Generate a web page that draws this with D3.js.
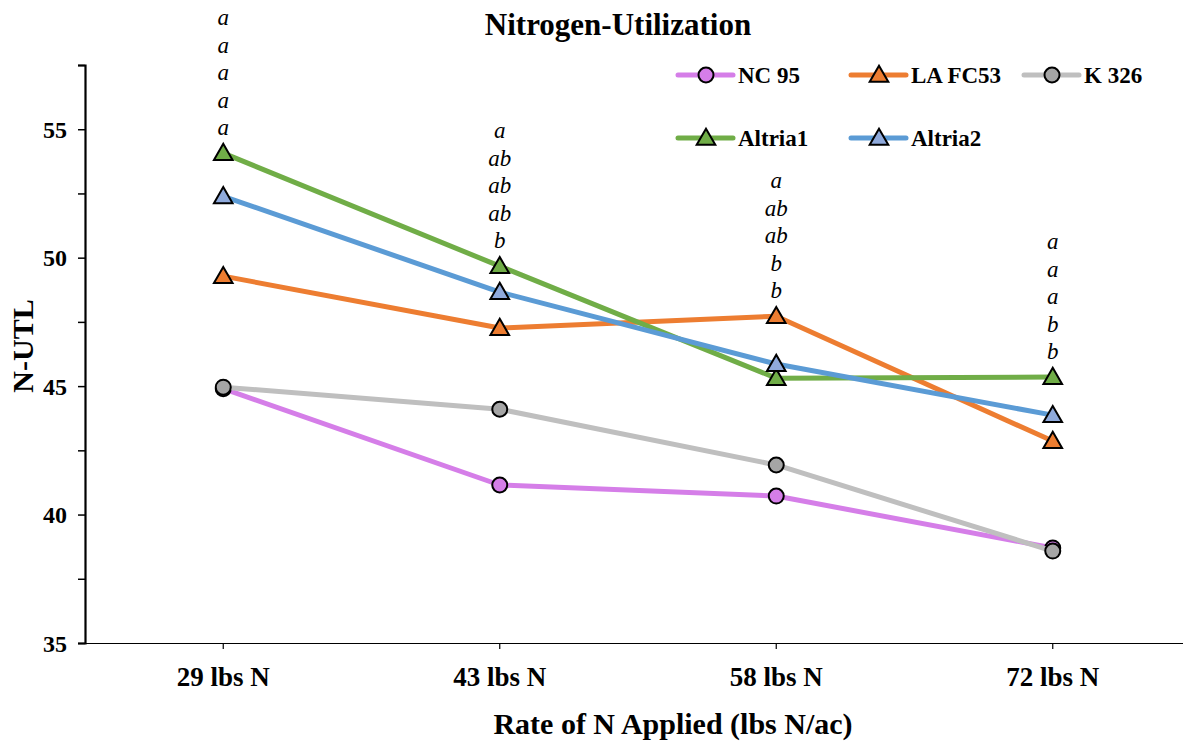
<!DOCTYPE html>
<html>
<head>
<meta charset="utf-8">
<script src="https://cdn.jsdelivr.net/npm/d3@7"></script>
<style>
  body { margin: 0; background: #fff; }
  svg text { font-family: "Liberation Serif", "Times New Roman", serif; }
</style>
</head>
<body>
<svg id="chart" width="1183" height="742"></svg>
<script>
// Nitrogen rates and N-utilization by variety
const rates = ["29 lbs N", "43 lbs N", "58 lbs N", "72 lbs N"];
const nc95    = [44.9, 41.15, 40.72, 38.70];
const laFC53  = [49.28, 47.26, 47.72, 42.86];
const k326    = [44.96, 44.10, 41.93, 38.58];
const altria1 = [54.07, 49.67, 45.31, 45.35];
const altria2 = [52.39, 48.66, 45.86, 43.87];
const yTicks  = [35, 40, 45, 50, 55];
// mean separation letters per rate, top to bottom
const letters = [
  ["a", "a", "a", "a", "a"],
  ["a", "ab", "ab", "ab", "b"],
  ["a", "ab", "ab", "b", "b"],
  ["a", "a", "a", "b", "b"]
];

const series = [
  { name: "NC 95",   values: nc95,    line: "#d57ee8", fill: "#d57ee8", shape: "circle" },
  { name: "LA FC53", values: laFC53,  line: "#ed7d31", fill: "#ed7d31", shape: "triangle" },
  { name: "K 326",   values: k326,    line: "#bfbfbf", fill: "#a5a5a5", shape: "circle" },
  { name: "Altria1", values: altria1, line: "#70ad47", fill: "#70ad47", shape: "triangle" },
  { name: "Altria2", values: altria2, line: "#5b9bd5", fill: "#8faadc", shape: "triangle" }
];

const svg = d3.select("#chart");
const plotLeft = 85, plotRight = 1191, plotTop = 65, plotBottom = 643;

const x = d3.scaleBand().domain(rates).range([plotLeft, plotRight]);
const y = d3.scaleLinear().domain([35, 57.5]).range([plotBottom, plotTop]);
const cx = d => x(d) + x.bandwidth() / 2;

// axes
const yAxis = svg.append("g").attr("transform", `translate(${plotLeft},0)`)
  .call(d3.axisLeft(y).tickValues(d3.range(35, 57.51, 2.5)).tickSize(7)
    .tickFormat(d => yTicks.includes(d) ? d : ""));
yAxis.select(".domain").attr("stroke", "#000").attr("stroke-width", 2.2);
yAxis.selectAll(".tick line").attr("stroke", "#000").attr("stroke-width", 1.5);
yAxis.selectAll(".tick text")
  .style("font-size", "24px").style("font-weight", "bold")
  .style("font-family", "'Liberation Serif', serif")
  .attr("fill", "#000").attr("x", -18).attr("dy", "0.34em");

const xAxis = svg.append("g").attr("transform", `translate(0,${plotBottom})`)
  .call(d3.axisBottom(x).tickSize(6).tickSizeOuter(0));
xAxis.select(".domain").attr("stroke", "#000").attr("stroke-width", 1.2);
xAxis.selectAll(".tick line").attr("stroke", "#000").attr("stroke-width", 1.2);
xAxis.selectAll(".tick text")
  .style("font-size", "27px").style("font-weight", "bold")
  .style("font-family", "'Liberation Serif', serif")
  .attr("fill", "#000").attr("dy", 0).attr("y", 43);

// titles
svg.append("text").attr("x", 618).attr("y", 35).attr("text-anchor", "middle")
  .attr("font-size", 31).attr("font-weight", "bold").text("Nitrogen-Utilization");
svg.append("text").attr("x", 673).attr("y", 734).attr("text-anchor", "middle")
  .attr("font-size", 30).attr("font-weight", "bold").text("Rate of N Applied (lbs N/ac)");
svg.append("text").attr("transform", "translate(33,346) rotate(-90)")
  .attr("text-anchor", "middle").attr("font-size", 30).attr("font-weight", "bold").text("N-UTL");

// marker drawing
const tri = d3.symbol().type(d3.symbolTriangle).size(150);
function marker(g, s, px, py) {
  if (s.shape === "circle") {
    g.append("circle").attr("cx", px).attr("cy", py).attr("r", 7.5)
      .attr("fill", s.fill).attr("stroke", "#000").attr("stroke-width", 2);
  } else {
    g.append("path").attr("d", tri).attr("transform", `translate(${px},${py + 1.5})`)
      .attr("fill", s.fill).attr("stroke", "#000").attr("stroke-width", 2)
      .attr("stroke-linejoin", "miter");
  }
}

// lines and markers
const line = d3.line().x((d, i) => cx(rates[i])).y(d => y(d));
series.forEach(s => {
  const g = svg.append("g");
  g.append("path").datum(s.values).attr("d", line).attr("fill", "none")
    .attr("stroke", s.line).attr("stroke-width", 5).attr("stroke-linejoin", "round");
  s.values.forEach((v, i) => marker(g, s, cx(rates[i]), y(v)));
});

// letters stacked above the highest marker at each rate
rates.forEach((r, i) => {
  const topVal = d3.max(series, s => s.values[i]);
  const base = y(topVal) - 18;
  const ls = letters[i];
  ls.forEach((t, j) => {
    svg.append("text").attr("x", cx(r)).attr("y", base - (ls.length - 1 - j) * 27.5)
      .attr("text-anchor", "middle").attr("font-size", 23).attr("font-style", "italic")
      .text(t);
  });
});

// legend
const legendPos = [[678, 75], [851, 75], [1024, 75], [678, 138], [851, 138]];
series.forEach((s, i) => {
  const [lx, ly] = legendPos[i];
  const g = svg.append("g");
  g.append("line").attr("x1", lx).attr("x2", lx + 55).attr("y1", ly).attr("y2", ly)
    .attr("stroke", s.line).attr("stroke-width", 5).attr("stroke-linecap", "round");
  marker(g, s, lx + 28, ly);
  g.append("text").attr("x", lx + 60).attr("y", ly + 8).attr("font-size", 23)
    .attr("font-weight", "bold").text(s.name);
});
</script>
</body>
</html>
